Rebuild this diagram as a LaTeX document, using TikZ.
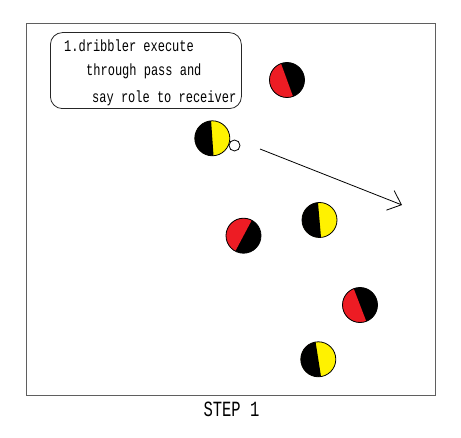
\documentclass[tikz,border=0pt]{standalone}
\usepackage{fontspec}
\setmonofont{Liberation Mono}
\usetikzlibrary{arrows.meta}
\definecolor{pred}{RGB}{237,28,36}
\definecolor{pyel}{RGB}{255,242,0}
\definecolor{framegray}{RGB}{95,95,95}
\tikzset{
  player/.style n args={3}{circle, draw=black, line width=0.8pt, minimum size=35pt, inner sep=0pt, fill=#3,
    path picture={\fill[#2] (path picture bounding box.center) ++(#1:20pt) -- ++(#1+90:20pt) -- ++(#1+180:40pt) -- ++(#1-90:20pt) -- cycle;}},
  redplayer/.style={player={#1}{pred}{black}},
  yelplayer/.style={player={#1}{black}{pyel}},
  ballnode/.style={circle, draw=black, line width=0.8pt, fill=white, minimum size=11pt, inner sep=0pt},
  notetext/.style={anchor=base west, inner sep=0pt, font=\ttfamily\fontsize{12}{14}\selectfont},
  passline/.style={line width=0.8pt, -{Straight Barb[length=12pt,width=21pt,line width=0.8pt]}},
}
\begin{document}
\begin{tikzpicture}[x=1pt,y=1pt]
\useasboundingbox (0,0) rectangle (461,437);
\node (field) [draw=framegray, line width=1.2pt, minimum width=409pt, minimum height=372pt, anchor=south west, inner sep=0pt] at (26,41) {};
\node (note) [draw=black!85, line width=0.8pt, rounded corners=12pt, minimum width=191pt, minimum height=76pt, anchor=south west, inner sep=0pt] at (50,328) {};
\node (l1) [notetext] at (64,385.3) {\scalebox{1}[1.35]{1.dribbler execute}};
\node (l2) [notetext] at (86,361) {\scalebox{1}[1.35]{through pass and}};
\node (l3) [notetext] at (92,334.7) {\scalebox{1}[1.35]{say role to receiver}};
\node (r1) [redplayer=110] at (287,357) {};
\node (y1) [yelplayer=94] at (212.3,298.7) {};
\node (ball) [ballnode] at (234.5,291.5) {};
\node (r2) [redplayer=62] at (243.5,201.3) {};
\node (y2) [yelplayer=95] at (319.5,217) {};
\node (r3) [redplayer=111] at (360,132) {};
\node (y3) [yelplayer=99] at (318.3,77.7) {};
\coordinate (passfrom) at (260,288);
\coordinate (passto) at (402,232);
\draw[passline] (passfrom) -- (passto);
\node (step) [anchor=base west, inner sep=0pt, font=\ttfamily\fontsize{15.5}{18}\selectfont] at (203.3,20.3) {\scalebox{1}[1.4]{STEP 1}};
\end{tikzpicture}
\end{document}
